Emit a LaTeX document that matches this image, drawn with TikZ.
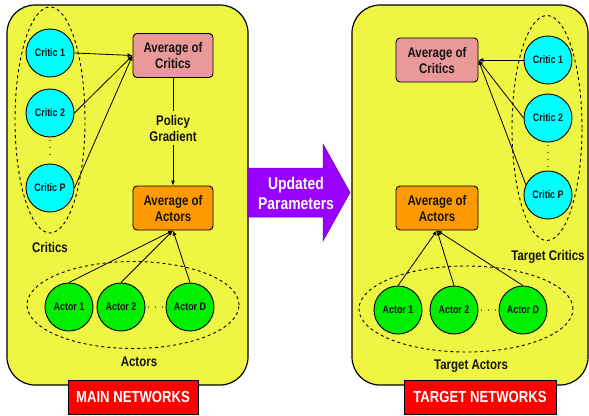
\documentclass[tikz,border=0pt]{standalone}
\usepackage{fontspec}
\setmainfont{Liberation Sans}[FakeStretch=0.82]
\usepackage{xcolor}
\usetikzlibrary{arrows.meta,positioning,shapes.geometric}
\definecolor{panelyellow}{HTML}{EEF542}
\definecolor{criticcyan}{HTML}{00FFFF}
\definecolor{actorgreen}{HTML}{00EE00}
\definecolor{avgpink}{HTML}{EA9999}
\definecolor{avgorange}{HTML}{FF9900}
\definecolor{updviolet}{HTML}{9900FF}
\definecolor{netred}{HTML}{FF0000}
\definecolor{dnink}{HTML}{141414}

\begin{document}
\begin{tikzpicture}[
  x=1pt,y=-1pt,
  font=\bfseries,text=dnink,
  panel/.style={draw=black,line width=1.2pt,fill=panelyellow,rounded corners=28pt},
  critic/.style={circle,draw=black,line width=0.9pt,fill=criticcyan,minimum size=48pt,
                 inner sep=0pt,font=\bfseries\fontsize{10.9}{12}\selectfont},
  actor/.style={critic,fill=actorgreen},
  avgbox/.style={rounded corners=4pt,draw=black,line width=0.9pt,minimum width=80pt,
                 minimum height=44pt,align=center,font=\bfseries\fontsize{14}{16}\selectfont},
  group/.style={ellipse,draw=black,dashed,line width=0.9pt,inner sep=0pt},
  lbl/.style={font=\bfseries\fontsize{14}{16}\selectfont,align=center},
  netbox/.style={draw=black,line width=0.9pt,fill=netred,text=white,minimum height=34pt,
                 font=\bfseries\fontsize{16}{18}\selectfont},
  arr/.style={-{Latex[length=5pt,width=4pt]},line width=0.8pt},
  dots/.style={line width=1.3pt,line cap=round,dash pattern=on 0pt off 7pt}
]
\useasboundingbox (0,0) rectangle (589,415);

% the two yellow panels
\node[panel,minimum width=241pt,minimum height=380pt] (mainPanel) at (127.5,195) {};
\node[panel,minimum width=236pt,minimum height=380pt] (targetPanel) at (470,195) {};

% main networks
\node[group,minimum width=70pt,minimum height=226pt] (critGrp) at (50,120) {};
\node[critic] (c1) at (50,53) {Critic 1};
\node[critic] (c2) at (50,113) {Critic 2};
\node[critic] (cP) at (50,188) {Critic P};
\node[lbl] (critLbl) at (50,247) {Critics};
\node[avgbox,fill=avgpink] (avgC) at (173,55.5) {Average of\\Critics};
\node[avgbox,fill=avgorange] (avgA) at (173,208) {Average of\\Actors};
\node[lbl] (pg) at (173,128) {Policy\\Gradient};
\node[group,minimum width=212pt,minimum height=87pt] (actGrp) at (133,305) {};
\node[actor] (a1) at (69,307) {Actor 1};
\node[actor] (a2) at (121,307) {Actor 2};
\node[actor] (aD) at (190,307) {Actor D};
\node[lbl] (actLbl) at (139,362) {Actors};
\node[netbox,minimum width=130pt] (mainNet) at (133,397) {MAIN NETWORKS};

\draw[dots] ([yshift=-3pt]c2.south) -- ([yshift=3pt]cP.north);
\draw[dots] ([xshift=3pt]a2.east) -- ([xshift=-3pt]aD.west);
\draw[arr] (c1.east) -- (avgC.west);
\draw[arr] (c2.east) -- (avgC.west);
\draw[arr] (cP.east) -- (avgC.west);
\draw[line width=0.8pt] (avgC) -- (pg);
\draw[arr] (pg) -- (avgA);
\draw[arr] (a1.north) -- (avgA.south);
\draw[arr] (a2.north) -- (avgA.south);
\draw[arr] (aD.north) -- (avgA.south);

% parameter copy arrow
\fill[updviolet,draw=updviolet!70!black,line width=0.5pt]
  (248,168) -- (323,168) -- (323,144) -- (350,192.5) -- (323,241) -- (323,217) -- (248,217) -- cycle;
\node[lbl,text=white,font=\bfseries\fontsize{17}{20}\selectfont] (upd) at (296,193) {Updated\\Parameters};

% target networks
\node[group,minimum width=70pt,minimum height=225pt] (critGrpT) at (547,128) {};
\node[critic] (c1t) at (548,60) {Critic 1};
\node[critic] (c2t) at (548,118) {Critic 2};
\node[critic] (cPt) at (548,195) {Critic P};
\node[lbl] (critLblT) at (548,257) {Target Critics};
\node[avgbox,fill=avgpink,minimum width=82pt] (avgCt) at (437,60) {Average of\\Critics};
\node[avgbox,fill=avgorange,minimum width=82pt] (avgAt) at (437,208) {Average of\\Actors};
\node[group,minimum width=214pt,minimum height=86pt] (actGrpT) at (466,309) {};
\node[actor] (a1t) at (398,310) {Actor 1};
\node[actor] (a2t) at (454,310) {Actor 2};
\node[actor] (aDt) at (523,310) {Actor D};
\node[lbl] (actLblT) at (471,366) {Target Actors};
\node[netbox,minimum width=152pt] (targetNet) at (480,397) {TARGET NETWORKS};

\draw[dots] ([yshift=-3pt]c2t.south) -- ([yshift=3pt]cPt.north);
\draw[dots] ([xshift=3pt]a2t.east) -- ([xshift=-3pt]aDt.west);
\draw[arr] (c1t.west) -- (avgCt.east);
\draw[arr] (c2t.west) -- (avgCt.east);
\draw[arr] (cPt.155) -- (avgCt.east);
\draw[arr] (a1t.north) -- (avgAt.south);
\draw[arr] (a2t.north) -- (avgAt.south);
\draw[arr] (aDt.north) -- (avgAt.south);
\end{tikzpicture}
\end{document}
